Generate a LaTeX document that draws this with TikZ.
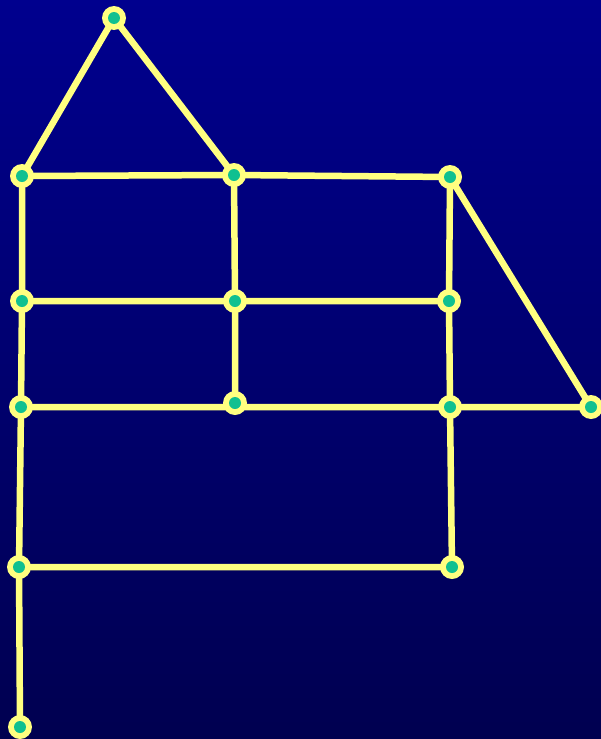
\documentclass[tikz,border=0pt]{standalone}
\definecolor{bgtop}{RGB}{0,0,142}
\definecolor{bgbot}{RGB}{0,0,80}
\definecolor{edgeyel}{RGB}{255,255,128}
\definecolor{dotgreen}{RGB}{16,192,144}
\pgfdeclarelayer{bglayer}
\pgfdeclarelayer{edgelayer}
\pgfsetlayers{bglayer,edgelayer,main}
\begin{document}
\begin{tikzpicture}[x=1pt,y=-1pt,
  vert/.style={circle,fill=edgeyel,minimum size=24pt,inner sep=0pt,
    path picture={\fill[dotgreen] (path picture bounding box.center) circle (6pt);}},
  edge/.style={draw=edgeyel,line width=6.5pt}]
\begin{pgfonlayer}{bglayer}
\shade[top color=bgtop,bottom color=bgbot] (0,0) rectangle (601,739);
\end{pgfonlayer}
\useasboundingbox (0,0) rectangle (601,739);
\node[vert] (A) at (114,18) {};
\node[vert] (B) at (22,176) {};
\node[vert] (C) at (234,175) {};
\node[vert] (D) at (450,177) {};
\node[vert] (E) at (22,301) {};
\node[vert] (F) at (235,301) {};
\node[vert] (G) at (449,301) {};
\node[vert] (H) at (21,407) {};
\node[vert] (I) at (235,403) {};
\node[vert] (J) at (450,407) {};
\node[vert] (K) at (591,407) {};
\node[vert] (L) at (19,567) {};
\node[vert] (M) at (452,567) {};
\node[vert] (N) at (20,727) {};
\begin{pgfonlayer}{edgelayer}
\path[edge] (A.center) -- (B.center) (A.center) -- (C.center)
  (B.center) -- (C.center) -- (D.center) -- (K.center)
  (B.center) -- (E.center) -- (H.center) -- (L.center) -- (N.center)
  (C.center) -- (F.center) -- (I.center)
  (D.center) -- (G.center) -- (J.center) -- (M.center)
  (E.center) -- (F.center) -- (G.center)
  (H.center) -- (J.center) -- (K.center)
  (L.center) -- (M.center);
\end{pgfonlayer}
\end{tikzpicture}
\end{document}
